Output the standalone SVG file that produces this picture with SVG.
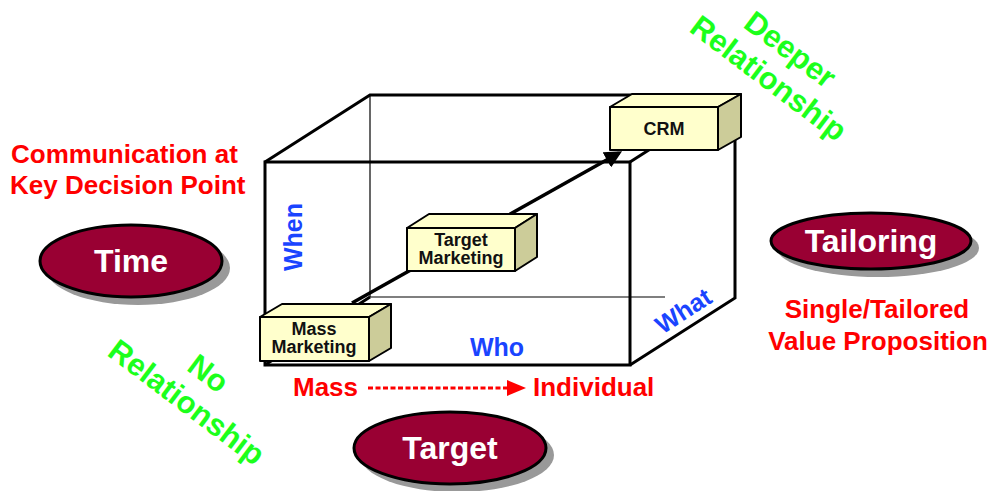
<svg xmlns="http://www.w3.org/2000/svg" width="1007" height="491" viewBox="0 0 1007 491">
<style>
.red{fill:#ff0000;font-family:"Liberation Sans",Arial,sans-serif;font-weight:bold;font-size:26px}
.blue{fill:#1a44ff;font-family:"Liberation Sans",Arial,sans-serif;font-weight:bold;font-size:25px}
.green{fill:#1cff1c;font-family:"Liberation Sans",Arial,sans-serif;font-weight:bold;font-size:31px}
.oval{fill:#990033;stroke:#000;stroke-width:3}
.shadow{fill:#999}
.ovt{fill:#fff;font-family:"Liberation Sans",Arial,sans-serif;font-weight:bold;font-size:32px}
.bx{fill:#ffffcc;stroke:#000;stroke-width:2;stroke-linejoin:round}
.bs{fill:#cccc99;stroke:#000;stroke-width:2;stroke-linejoin:round}
.bt{fill:#111;font-family:"Liberation Sans",Arial,sans-serif;font-weight:bold;font-size:18px;text-anchor:middle}
.thick{stroke:#000;stroke-width:3;fill:none}
.thin{stroke:#000;stroke-width:1.2;fill:none}
</style>
<defs>
<marker id="ah" markerWidth="5" markerHeight="5" refX="4" refY="2.5" orient="auto" markerUnits="strokeWidth">
<path d="M0,0 L5,2.5 L0,5 z" fill="#000"/>
</marker>
</defs>
<rect width="1007" height="491" fill="#fff"/>

<g id="cube">
<line class="thin" x1="370" y1="95" x2="370" y2="297"/>
<line class="thin" x1="370" y1="297" x2="665" y2="297"/>
<line class="thick" x1="265" y1="365" x2="370" y2="297"/>
<polyline class="thick" points="265,162 370,95 735,95 735,298 630,365"/>
<line class="thick" x1="630" y1="162" x2="735" y2="95"/>
<rect class="thick" x="265" y="162" width="365" height="203"/>
</g>

<g id="connectors">
<line x1="352" y1="303" x2="619" y2="153" stroke="#000" stroke-width="3.5" marker-end="url(#ah)"/>
<line x1="368" y1="388" x2="510" y2="388" stroke="#ff0000" stroke-width="3" stroke-dasharray="5 2.5"/>
<polygon points="507,380 526,388 507,396" fill="#ff0000"/>
</g>

<g id="mass-marketing">
<polygon class="bx" points="260,317 282,304 391,304 369,317"/>
<polygon class="bs" points="369,317 391,304 391,348 369,361"/>
<rect class="bx" x="260" y="317" width="109" height="44"/>
<text class="bt" x="314" y="335">Mass</text>
<text class="bt" x="314" y="353">Marketing</text>
</g>

<g id="target-marketing">
<polygon class="bx" points="407,228 429,214 537,214 515,228"/>
<polygon class="bs" points="515,228 537,214 537,257 515,271"/>
<rect class="bx" x="407" y="228" width="108" height="43"/>
<text class="bt" x="461" y="246">Target</text>
<text class="bt" x="461" y="264">Marketing</text>
</g>

<g id="crm">
<polygon class="bx" points="610,107 632,94 741,94 718,107"/>
<polygon class="bs" points="718,107 741,94 741,137 718,150"/>
<rect class="bx" x="610" y="107" width="108" height="43"/>
<text class="bt" x="664" y="135">CRM</text>
</g>

<g id="axis-labels">
<text class="blue" transform="translate(302,237) rotate(-90)" text-anchor="middle">When</text>
<text class="blue" x="497" y="356" text-anchor="middle">Who</text>
<text class="blue" transform="translate(688,318) rotate(-33)" text-anchor="middle" font-size="27">What</text>
</g>

<g id="time">
<ellipse class="shadow" cx="138" cy="268" rx="92" ry="37"/>
<ellipse class="oval" cx="131" cy="261" rx="91" ry="36"/>
<text class="ovt" x="131" y="272" text-anchor="middle">Time</text>
</g>

<g id="target">
<ellipse class="shadow" cx="457" cy="455" rx="97" ry="37"/>
<ellipse class="oval" cx="450" cy="448" rx="96" ry="36"/>
<text class="ovt" x="450" y="459" text-anchor="middle">Target</text>
</g>

<g id="tailoring">
<ellipse class="shadow" cx="878" cy="248" rx="101" ry="29"/>
<ellipse class="oval" cx="871" cy="241" rx="100" ry="28"/>
<text class="ovt" x="871" y="252" text-anchor="middle">Tailoring</text>
</g>

<g id="notes">
<text class="red" x="11" y="163">Communication at</text>
<text class="red" x="10" y="194">Key Decision Point</text>
<text class="red" x="877" y="318" text-anchor="middle">Single/Tailored</text>
<text class="red" x="878" y="350" text-anchor="middle">Value Proposition</text>
<text class="red" x="293" y="396">Mass</text>
<text class="red" x="533" y="396">Individual</text>
</g>

<g id="relationship-labels">
<g transform="translate(784,58) rotate(37)">
<text class="green" x="0" y="0" text-anchor="middle">Deeper</text>
<text class="green" x="0" y="36" text-anchor="middle">Relationship</text>
</g>
<g transform="translate(202,382) rotate(37)">
<text class="green" x="0" y="0" text-anchor="middle">No</text>
<text class="green" x="0" y="36" text-anchor="middle">Relationship</text>
</g>
</g>
</svg>
